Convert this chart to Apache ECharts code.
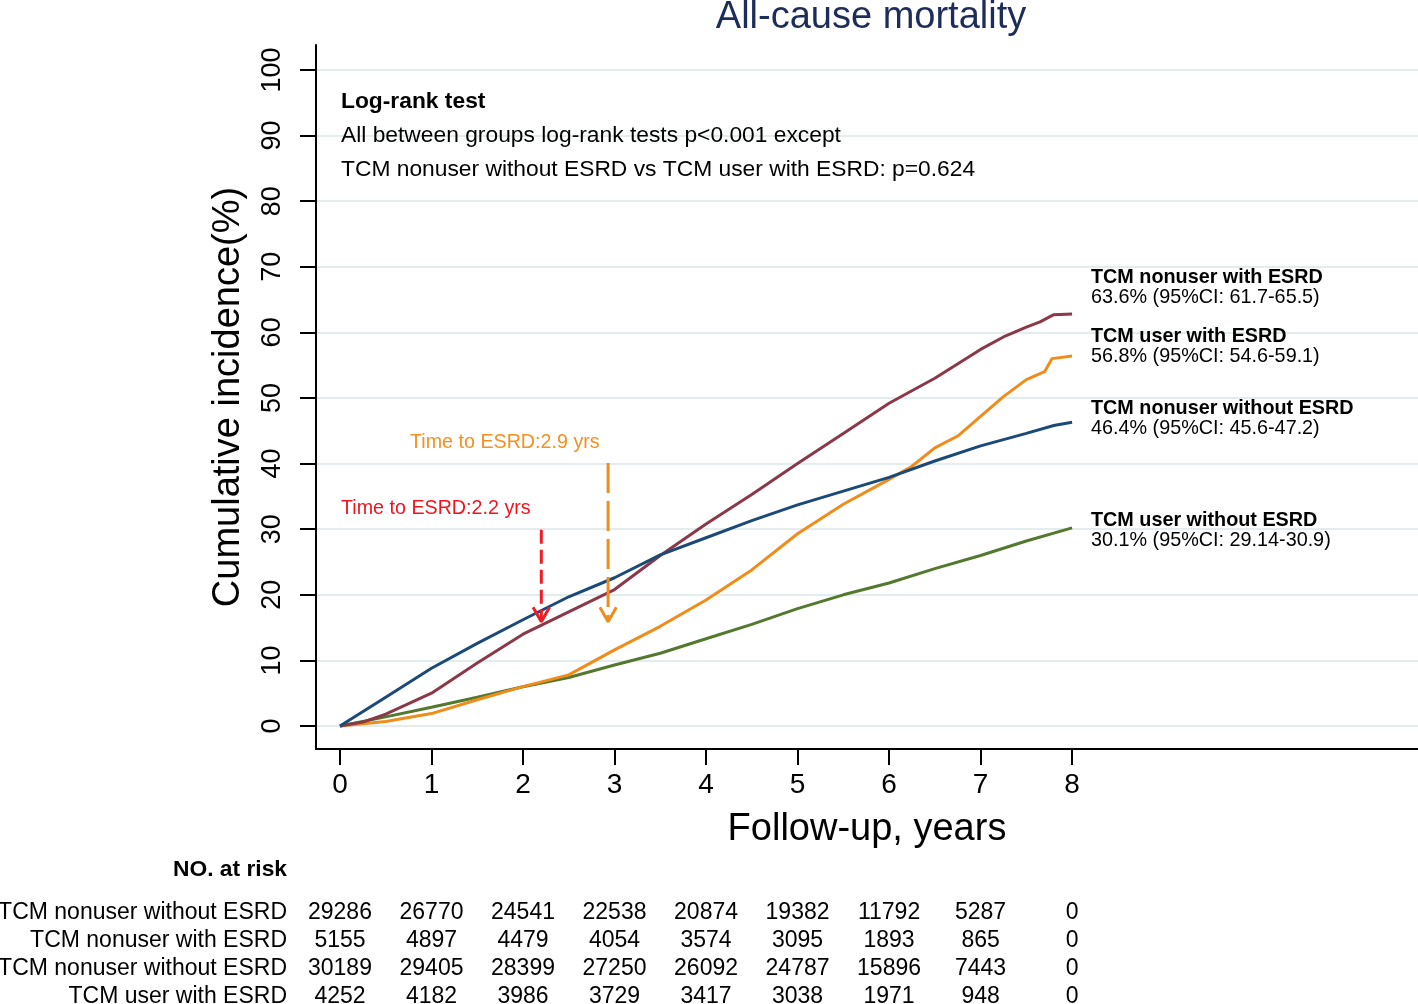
<!DOCTYPE html>
<html><head><meta charset="utf-8">
<script src="https://cdn.jsdelivr.net/npm/echarts@6/dist/echarts.min.js"></script>
<style>html,body{margin:0;padding:0;background:#fff}#c{width:1418px;height:1004px}</style>
</head><body><div id="c"></div>
<script>
// ---- data ----
const xTicks = [0,1,2,3,4,5,6,7,8];
const yTicks = [0,10,20,30,40,50,60,70,80,90,100];
const nonuserNoEsrd = [[0,0],[0.5,4.4],[1,8.8],[1.5,12.6],[2,16.2],[2.5,19.7],[3,22.6],[3.5,26.1],[4,28.7],[4.5,31.3],[5,33.7],[5.5,35.8],[6,37.9],[6.5,40.4],[7,42.7],[7.5,44.6],[7.8,45.8],[8,46.3]];
const nonuserEsrd = [[0,0],[0.25,0.6],[0.5,1.8],[1,5.0],[1.5,9.6],[2,14.0],[2.5,17.4],[3,20.8],[3.5,26.0],[4,30.8],[4.5,35.3],[5,40.0],[5.5,44.6],[6,49.2],[6.5,53.0],[7,57.4],[7.25,59.3],[7.5,60.8],[7.65,61.6],[7.8,62.7],[8,62.8]];
const userEsrd = [[0,0],[0.5,0.7],[1,1.9],[1.5,4.0],[2,6.0],[2.5,7.8],[3,11.6],[3.5,15.2],[4,19.2],[4.5,23.8],[5,29.3],[5.5,33.8],[6,37.6],[6.25,39.6],[6.5,42.4],[6.75,44.2],[7,47.2],[7.25,50.2],[7.5,52.8],[7.7,54.0],[7.78,56.0],[8,56.4]];
const userNoEsrd = [[0,0],[0.5,1.4],[1,2.85],[1.5,4.4],[2,6.0],[2.5,7.4],[3,9.3],[3.5,11.1],[4,13.3],[4.5,15.5],[5,17.9],[5.5,20.0],[6,21.8],[6.5,24.0],[7,26.0],[7.5,28.2],[8,30.2]];
const endLabels = [
  {name:'TCM nonuser with ESRD', ci:'63.6% (95%CI: 61.7-65.5)'},
  {name:'TCM user with ESRD', ci:'56.8% (95%CI: 54.6-59.1)'},
  {name:'TCM nonuser without ESRD', ci:'46.4% (95%CI: 45.6-47.2)'},
  {name:'TCM user without ESRD', ci:'30.1% (95%CI: 29.14-30.9)'}
];
const riskRows = ['TCM nonuser without ESRD','TCM nonuser with ESRD','TCM nonuser without ESRD','TCM user with ESRD'];
const riskValues = [
  [29286,26770,24541,22538,20874,19382,11792,5287,0],
  [5155,4897,4479,4054,3574,3095,1893,865,0],
  [30189,29405,28399,27250,26092,24787,15896,7443,0],
  [4252,4182,3986,3729,3417,3038,1971,948,0]
];
// arrows: [x, top, tip]
const arrowRed = [2.2, 29.9, 15.9];
const arrowOrange = [2.93, 40.1, 15.9];

const FONT = '"Liberation Sans", Arial, sans-serif';
const C = {blue:'#1b4a78', red:'#8b3848', orange:'#f08c1a', green:'#52792d', redTxt:'#f0141e', orTxt:'#f5901e'};

const chart = echarts.init(document.getElementById('c'), null, {renderer:'canvas'});

function arrowSeries(a, color, dash){
  const dx = 0.09, dy = 2.2;
  return [
    {type:'line', data:[[a[0],a[1]],[a[0],a[2]+0.3]], symbol:'none', silent:true,
     lineStyle:{color:color, width:3, type:dash}, z:5},
    {type:'line', data:[[a[0]-dx,a[2]+dy],[a[0],a[2]],[a[0]+dx,a[2]+dy]], symbol:'none', silent:true,
     lineStyle:{color:color, width:3}, z:5}
  ];
}

const option = {
  animation:false,
  backgroundColor:'#fff',
  title:{text:'All-cause mortality', left:866, top:-6, textAlign:'center',
    textStyle:{fontFamily:FONT, fontSize:38, fontWeight:'normal', color:'#1c2d5a'}},
  grid:{left:316, right:0, top:45, bottom:255, containLabel:false},
  xAxis:{type:'value', min:-0.262, max:11.78,
    name:'Follow-up, years', nameLocation:'middle', nameGap:62,
    nameTextStyle:{fontFamily:FONT, fontSize:38, color:'#000'},
    axisLine:{show:true, onZero:false, lineStyle:{color:'#000', width:2}},
    axisTick:{show:true, length:16, lineStyle:{color:'#000', width:2}, customValues:xTicks},
    axisLabel:{fontFamily:FONT, fontSize:28, color:'#000', margin:22, customValues:xTicks},
    splitLine:{show:false}},
  yAxis:{type:'value', min:-3.5, max:103.8,
    name:'Cumulative incidence(%)', nameLocation:'middle', nameGap:68,
    nameTextStyle:{fontFamily:FONT, fontSize:38, color:'#000'},
    axisLine:{show:true, onZero:false, lineStyle:{color:'#000', width:2}},
    axisTick:{show:true, length:16, lineStyle:{color:'#000', width:2}, customValues:yTicks},
    axisLabel:{fontFamily:FONT, fontSize:27, color:'#000', margin:30, rotate:90, customValues:yTicks},
    splitLine:{show:true, lineStyle:{color:'#e4eded', width:2}}},
  series:[
    {name:'TCM user without ESRD', type:'line', data:userNoEsrd, symbol:'none', lineStyle:{color:C.green, width:3}, z:3},
    {name:'TCM user with ESRD', type:'line', data:userEsrd, symbol:'none', lineStyle:{color:C.orange, width:3}, z:3},
    {name:'TCM nonuser with ESRD', type:'line', data:nonuserEsrd, symbol:'none', lineStyle:{color:C.red, width:3}, z:3},
    {name:'TCM nonuser without ESRD', type:'line', data:nonuserNoEsrd, symbol:'none', lineStyle:{color:C.blue, width:3}, z:3},
    ...arrowSeries(arrowRed, '#ee1c25', [14,6]),
    ...arrowSeries(arrowOrange, C.orange, [30,8])
  ]
};
chart.setOption(option);

// ---- text annotations ----
const g = [];
const txt = (x,y,text,opt={}) => g.push({type:'text', x, y, silent:true,
  style:Object.assign({text, fontFamily:FONT, fontSize:22.8, fill:'#000', textVerticalAlign:'middle'}, opt)});

txt(341,102,'Log-rank test',{fontWeight:'bold'});
txt(341,136,'All between groups log-rank tests p<0.001 except');
txt(341,170,'TCM nonuser without ESRD vs TCM user with ESRD: p=0.624');

txt(410,443,'Time to ESRD:2.9 yrs',{fill:C.orTxt, fontSize:19.7});
txt(341,509,'Time to ESRD:2.2 yrs',{fill:C.redTxt, fontSize:19.7});

const labY = [278,337,409,521];
endLabels.forEach((l,i)=>{
  txt(1091,labY[i],l.name,{fontWeight:'bold', fontSize:19.8});
  txt(1091,labY[i]+20,l.ci,{fontSize:19.8});
});

txt(287,870,'NO. at risk',{fontWeight:'bold', textAlign:'right'});
const rowY = [913,941,969,997];
riskRows.forEach((r,i)=>{
  txt(287,rowY[i],r,{textAlign:'right', fontSize:23});
  riskValues[i].forEach((v,j)=>{
    const px = chart.convertToPixel({xAxisIndex:0}, xTicks[j]);
    txt(px,rowY[i],String(v),{textAlign:'center', fontSize:23});
  });
});
chart.setOption({graphic:g});
</script></body></html>
